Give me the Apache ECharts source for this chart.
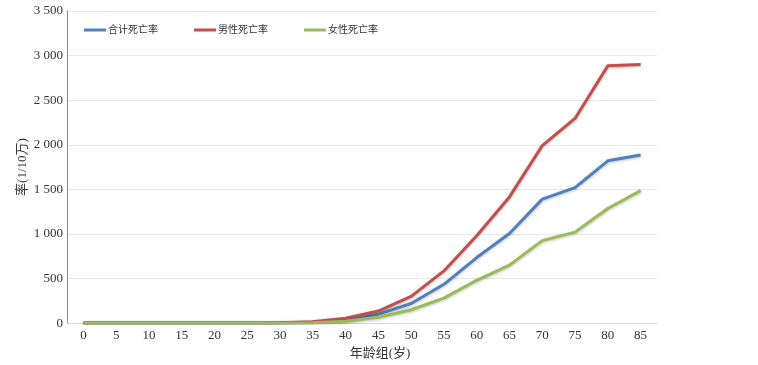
<!DOCTYPE html>
<html><head><meta charset="utf-8">
<script src="https://cdn.jsdelivr.net/npm/echarts@6/dist/echarts.min.js"></script>
<style>html,body{margin:0;padding:0;background:#fff}#c{width:758px;height:365px}</style>
</head><body><div id="c"></div>
<script>
const categories = ['0','5','10','15','20','25','30','35','40','45','50','55','60','65','70','75','80','85'];
const totalRate  = [1,1,1,1,1,1,3,10,38,100,220,435,735,1005,1390,1520,1820,1885];
const maleRate   = [2,1,1,1,2,2,4,15,55,135,300,585,980,1415,1990,2295,2885,2900];
const femaleRate = [1,1,1,1,1,1,2,5,22,65,150,280,480,650,925,1020,1285,1485];
const seriesNames = ['合计死亡率','男性死亡率','女性死亡率'];
const colors = ['#4F81BD','#C0504D','#9BBB59'];
const yTicks = {min:0, max:3500, interval:500};

const font = '"Liberation Serif","Noto Sans CJK SC",serif';
const chart = echarts.init(document.getElementById('c'));
const mk = (name, data, color) => ({
  name, type:'line', data, symbol:'none', smooth:false,
  lineStyle:{width:3, color, shadowColor:'rgba(0,0,0,0.25)', shadowBlur:3, shadowOffsetY:1},
  itemStyle:{color}
});
chart.setOption({
  animation:false,
  textStyle:{fontFamily:font},
  grid:{left:67, right:101, top:11, bottom:40},
  legend:{
    left:79, top:20, itemWidth:22, itemHeight:10, itemGap:36,
    icon:'path://M0,4 L22,4 L22,7 L0,7 Z',
    textStyle:{fontFamily:font, fontSize:10, color:'#333', padding:[0,0,0,-3]},
    data:seriesNames
  },
  xAxis:{
    type:'category', data:categories, boundaryGap:true,
    name:'年龄组(岁)', nameLocation:'middle', nameGap:22,
    nameTextStyle:{fontFamily:font, fontSize:13, color:'#333', padding:[0,0,0,36]},
    axisLine:{lineStyle:{color:'#d9d9d9'}},
    axisTick:{alignWithLabel:true, length:5, lineStyle:{color:'#777'}},
    axisLabel:{fontFamily:font, fontSize:13, color:'#333', margin:6}
  },
  yAxis:{
    type:'value', min:yTicks.min, max:yTicks.max, interval:yTicks.interval,
    name:'率(1/10万)', nameLocation:'middle', nameGap:38, nameRotate:90,
    nameMoveOverlap:false,
    nameTextStyle:{fontFamily:font, fontSize:13, color:'#333'},
    axisLine:{show:true, lineStyle:{color:'#888'}},
    axisTick:{show:false},
    axisLabel:{fontFamily:font, fontSize:13, color:'#333', margin:4,
      formatter:v=>String(v).replace(/\B(?=(\d{3})+(?!\d))/g,' ')},
    splitLine:{lineStyle:{color:'#e8e8e8'}}
  },
  series:[
    mk(seriesNames[0], totalRate, colors[0]),
    mk(seriesNames[1], maleRate, colors[1]),
    mk(seriesNames[2], femaleRate, colors[2])
  ]
});
</script></body></html>
